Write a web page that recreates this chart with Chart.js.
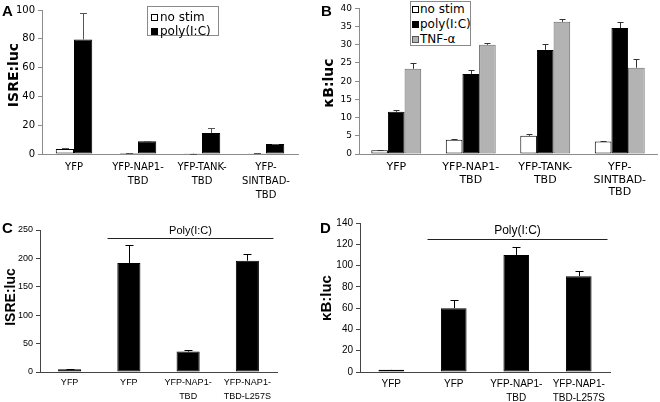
<!DOCTYPE html>
<html><head><meta charset="utf-8">
<script src="https://cdn.jsdelivr.net/npm/chart.js@4.4.0/dist/chart.umd.min.js"></script>
<style>
html,body{margin:0;padding:0;background:#fff;}
#fig{position:relative;width:660px;height:402px;overflow:hidden;background:#fff;}
.pane{position:absolute;}
.letter{position:absolute;font-family:"Liberation Sans",Arial,sans-serif;font-weight:bold;font-size:15px;line-height:15px;color:#000;z-index:5;}
.ytitle{position:absolute;white-space:nowrap;font-weight:bold;transform:translate(-50%,-50%) rotate(-90deg);line-height:1;color:#000;z-index:5;}
.legend{position:absolute;box-sizing:border-box;border:1px solid #8a8a8a;background:#fff;font-family:"DejaVu Sans",sans-serif;font-size:12px;color:#000;z-index:5;}
.legend .row{position:absolute;white-space:nowrap;line-height:12px;height:12px;}
.legend .sw{position:absolute;box-sizing:border-box;width:7px;height:7px;border:1px solid #000;}
</style></head>
<body>
<div id="fig">
  <div class="pane" style="left:0;top:0;width:330px;height:200px"><canvas id="cA" width="330" height="200"></canvas></div>
  <div class="pane" style="left:330px;top:0;width:330px;height:200px"><canvas id="cB" width="330" height="200"></canvas></div>
  <div class="pane" style="left:0;top:200px;width:330px;height:202px"><canvas id="cC" width="330" height="202"></canvas></div>
  <div class="pane" style="left:330px;top:200px;width:330px;height:202px"><canvas id="cD" width="330" height="202"></canvas></div>

  <div class="letter" style="left:2px;top:3px">A</div>
  <div class="letter" style="left:321px;top:3px">B</div>
  <div class="letter" style="left:2px;top:220px">C</div>
  <div class="letter" style="left:320px;top:220px">D</div>

  <div class="ytitle" style="left:13px;top:75px;font-family:'DejaVu Sans';font-size:14px">ISRE:luc</div>
  <div class="ytitle" style="left:328px;top:83px;font-family:'DejaVu Sans';font-size:14px">κB:luc</div>
  <div class="ytitle" style="left:10px;top:297px;font-family:'Liberation Sans';font-size:14px">ISRE:luc</div>
  <div class="ytitle" style="left:325px;top:298px;font-family:'Liberation Sans';font-size:15px">κB:luc</div>

  <div id="legA" class="legend" style="left:147px;top:6px;width:72px;height:30px"></div>
  <div id="legB" class="legend" style="left:410px;top:1px;width:61px;height:45px"></div>
</div>
<script>
// ---------- data ----------
const catsAB = [["YFP"], ["YFP-NAP1-","TBD"], ["YFP-TANK-","TBD"], ["YFP-","SINTBAD-","TBD"]];
const catsCD = [["YFP"], ["YFP"], ["YFP-NAP1-","TBD"], ["YFP-NAP1-","TBD-L257S"]];

const seriesNames = ["no stim", "poly(I:C)", "TNF-α"];

const aNoStim    = [3.5, 0.7, 0.2, 0.6];
const aNoStimErr = [0.7, 0.1, 0.05, 0.1];
const aPoly      = [79.5, 8.8, 14.5, 6.9];
const aPolyErr   = [18.5, 0.3, 3.5, 0.2];

const bNoStim    = [1.0, 3.9, 5.0, 3.4];
const bNoStimErr = [0.2, 0.2, 0.4, 0.15];
const bPoly      = [11.6, 22.0, 28.6, 34.6];
const bPolyErr   = [0.6, 1.1, 1.6, 1.8];
const bTnf       = [23.4, 30.0, 36.3, 23.7];
const bTnfErr    = [1.5, 0.5, 0.7, 2.4];

const cVals = [5, 192, 36, 196];
const cErr  = [0.5, 31, 2.5, 11];
const dVals = [2, 60, 110, 90];
const dErr  = [0.3, 8, 7, 4.5];

const yTicksA = [0, 20, 40, 60, 80, 100];
const yTicksB = [0, 5, 10, 15, 20, 25, 30, 35, 40];
const yTicksC = [0, 50, 100, 150, 200, 250];
const yTicksD = [0, 20, 40, 60, 80, 100, 120, 140];

const bracketText = "Poly(I:C)";

// ---------- styles ----------
const WHITE = '#ffffff', BLACK = '#000000', GREY = '#b3b3b3';

// ---------- plugins ----------
const errorBars = {
  id: 'errorBars',
  afterDatasetsDraw(chart, args, o) {
    const ctx = chart.ctx, ys = chart.scales.y;
    chart.data.datasets.forEach((ds, i) => {
      if (!ds.errors) return;
      const meta = chart.getDatasetMeta(i);
      meta.data.forEach((el, j) => {
        const v = ds.data[j], e = ds.errors[j];
        const x = Math.round(el.x) + 0.5;
        const base = ys.getPixelForValue(v);
        const top = Math.round(ys.getPixelForValue(v + e)) + 0.5;
        ctx.save();
        ctx.strokeStyle = o.color; ctx.lineWidth = 1;
        ctx.beginPath();
        ctx.moveTo(x, base); ctx.lineTo(x, top);
        ctx.moveTo(x - o.cap / 2, top); ctx.lineTo(x + o.cap / 2, top);
        ctx.stroke();
        ctx.restore();
      });
    });
  }
};

const bracket = {
  id: 'bracket',
  afterDraw(chart, args, o) {
    if (!o || !o.text) return;
    const xs = chart.scales.x, ctx = chart.ctx;
    const w = xs.getPixelForValue(1) - xs.getPixelForValue(0);
    const x1 = xs.getPixelForValue(o.from) - o.padL * w;
    const x2 = xs.getPixelForValue(o.to) + o.padR * w;
    ctx.save();
    ctx.strokeStyle = '#222'; ctx.lineWidth = 1;
    ctx.beginPath();
    ctx.moveTo(x1, o.lineY + 0.5); ctx.lineTo(x2, o.lineY + 0.5);
    ctx.stroke();
    ctx.fillStyle = '#000';
    ctx.font = o.font;
    ctx.textAlign = 'center'; ctx.textBaseline = 'middle';
    ctx.fillText(o.text, (x1 + x2) / 2 + (o.textDx || 0), o.textY);
    ctx.restore();
  }
};

function makeChart(id, cfg) {
  const ticks = cfg.yTicks;
  return new Chart(document.getElementById(id), {
    type: 'bar',
    data: { labels: cfg.labels, datasets: cfg.datasets },
    plugins: [errorBars, bracket],
    options: {
      responsive: false,
      animation: false,
      layout: { padding: cfg.padding },
      plugins: {
        legend: { display: false },
        tooltip: { enabled: false },
        errorBars: { color: cfg.errColor, cap: cfg.cap },
        bracket: cfg.bracket || {}
      },
      datasets: { bar: { categoryPercentage: cfg.catPct, barPercentage: cfg.barPct } },
      scales: {
        x: {
          grid: { display: false, drawTicks: false, tickLength: 0 },
          border: { display: true, color: cfg.axisColor, width: 1 },
          ticks: { color: '#000', font: { family: cfg.font, size: cfg.xFont, lineHeight: cfg.xLine },
                   maxRotation: 0, autoSkip: false, padding: cfg.xPad },
          afterFit(s) { s.height = cfg.xHeight; }
        },
        y: {
          min: ticks[0], max: ticks[ticks.length - 1],
          grid: { display: true, drawOnChartArea: false, drawTicks: true, tickLength: 4, color: cfg.axisColor },
          border: { display: true, color: cfg.axisColor, width: 1 },
          ticks: { stepSize: ticks[1] - ticks[0], color: '#000', padding: 3,
                   font: { family: cfg.font, size: cfg.yFont } },
          afterFit(s) { s.width = cfg.yWidth; }
        }
      }
    }
  });
}

function bar(label, data, errors, fill, border) {
  return { label, data, errors, backgroundColor: fill, borderColor: border, borderWidth: 1, borderSkipped: false };
}

const dsA = [
  bar(seriesNames[0], aNoStim, aNoStimErr, WHITE, BLACK),
  bar(seriesNames[1], aPoly, aPolyErr, BLACK, BLACK)
];
const dsB = [
  bar(seriesNames[0], bNoStim, bNoStimErr, WHITE, BLACK),
  bar(seriesNames[1], bPoly, bPolyErr, BLACK, BLACK),
  bar(seriesNames[2], bTnf, bTnfErr, GREY, '#6a6a6a')
];

makeChart('cA', {
  labels: catsAB, datasets: dsA, yTicks: yTicksA,
  padding: { left: 0, right: 32, top: 10, bottom: 0 },
  yWidth: 42, xHeight: 46, catPct: 0.57, barPct: 1.0,
  font: 'DejaVu Sans', xFont: 10, xLine: 1.4, yFont: 10, xPad: 6,
  axisColor: '#8c8c8c', errColor: '#555', cap: 7
});
makeChart('cB', {
  labels: catsAB, datasets: dsB, yTicks: yTicksB,
  padding: { left: 0, right: 3, top: 7, bottom: 0 },
  yWidth: 29, xHeight: 46, catPct: 0.67, barPct: 1.0,
  font: 'DejaVu Sans', xFont: 11, xLine: 1.15, yFont: 9, xPad: 7,
  axisColor: '#8c8c8c', errColor: '#333', cap: 6
});
makeChart('cC', {
  labels: catsCD, datasets: [bar('Poly', cVals, cErr, BLACK, BLACK)], yTicks: yTicksC,
  padding: { left: 0, right: 53, top: 30, bottom: 0 },
  yWidth: 40, xHeight: 30, catPct: 1.0, barPct: 0.39,
  font: 'Liberation Sans', xFont: 9, xLine: 1.55, yFont: 9, xPad: 4,
  axisColor: '#444', errColor: '#000', cap: 8,
  bracket: { text: bracketText, from: 1, to: 3, padL: 0.36, padR: 0.44, lineY: 38, textY: 31,
             font: '11px "Liberation Sans"' }
});
makeChart('cD', {
  labels: catsCD, datasets: [bar('Poly', dVals, dErr, BLACK, BLACK)], yTicks: yTicksD,
  padding: { left: 0, right: 50, top: 23, bottom: 0 },
  yWidth: 30, xHeight: 30, catPct: 1.0, barPct: 0.41,
  font: 'Liberation Sans', xFont: 10, xLine: 1.4, yFont: 10, xPad: 5,
  axisColor: '#444', errColor: '#000', cap: 8,
  bracket: { text: bracketText, from: 1, to: 3, padL: 0.42, padR: 0.46, lineY: 39, textY: 31,
             font: '12px "Liberation Sans"' }
});

// ---------- HTML legends from dataset definitions ----------
function makeLegend(elId, datasets, layout) {
  const box = document.getElementById(elId);
  datasets.forEach((ds, k) => {
    const row = document.createElement('div');
    row.className = 'row';
    row.style.left = layout.swLeft + 'px';
    row.style.top = (layout.top + k * layout.dy) + 'px';
    const sw = document.createElement('div');
    sw.className = 'sw';
    sw.style.left = '0px'; sw.style.top = '3px';
    sw.style.background = ds.backgroundColor;
    sw.style.borderColor = ds.borderColor === '#6a6a6a' ? '#555' : '#000';
    const tx = document.createElement('span');
    tx.textContent = ds.label;
    tx.style.position = 'absolute'; tx.style.left = layout.textGap + 'px'; tx.style.top = '0px';
    row.appendChild(sw); row.appendChild(tx);
    box.appendChild(row);
  });
}
makeLegend('legA', dsA, { swLeft: 3, top: 4, dy: 13.5, textGap: 9 });
makeLegend('legB', dsB, { swLeft: 1, top: 1, dy: 15, textGap: 8 });
</script>
</body></html>
